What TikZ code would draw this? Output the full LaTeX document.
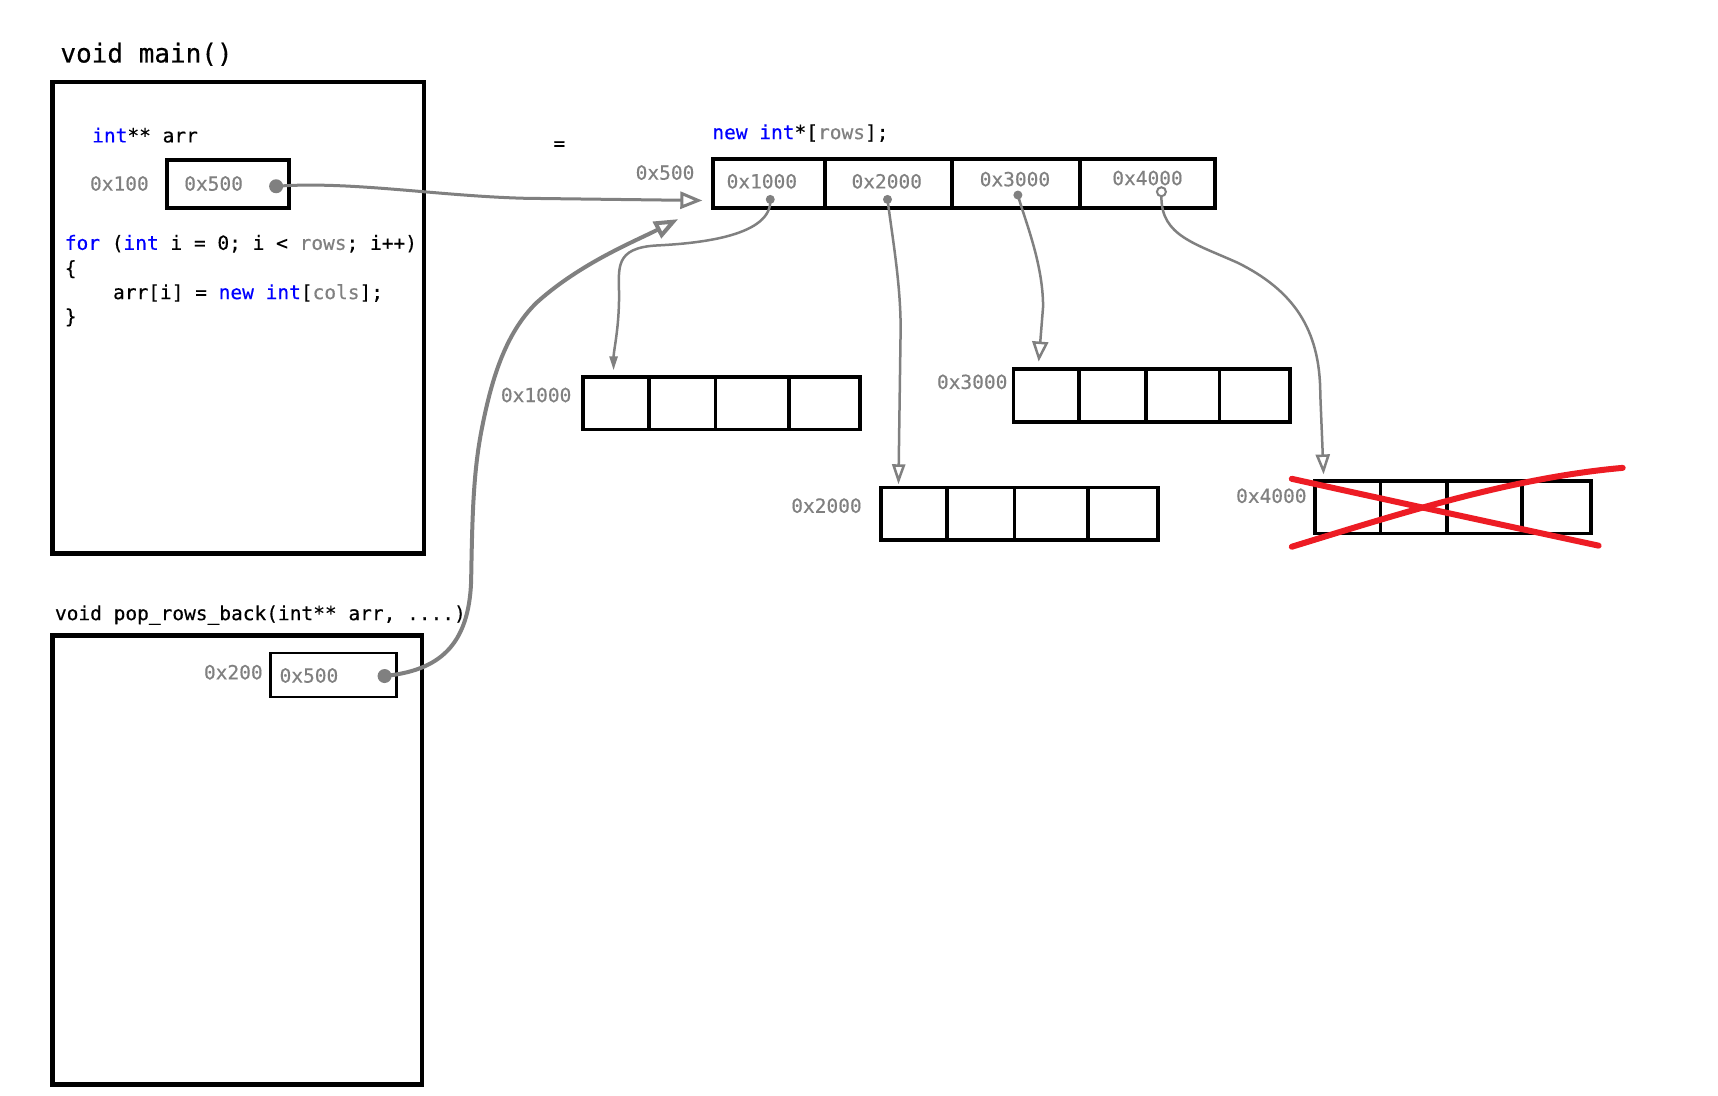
\documentclass[tikz,border=0pt]{standalone}
\usepackage{fontspec}
\setmonofont[FakeBold=0.4]{DejaVu Sans Mono}
\usetikzlibrary{fit,arrows.meta}
\definecolor{kw}{RGB}{0,0,255}
\definecolor{dim}{RGB}{128,128,128}
\definecolor{wiregray}{RGB}{128,128,128}
\definecolor{crossred}{RGB}{237,28,36}
\begin{document}
\begin{tikzpicture}[x=1.0957pt,y=-1.0957pt,
  txt/.style={anchor=base west, inner sep=0pt, font=\ttfamily\fontsize{19.5}{23}\selectfont},
  title/.style={anchor=base west, inner sep=0pt, font=\ttfamily\fontsize{26}{30}\selectfont},
  addr/.style={txt, text=dim},
  frame/.style={draw, line width=4.5pt, inner sep=0pt},
  slot/.style={draw, line width=4pt, inner sep=0pt},
  thinslot/.style={draw, line width=2.5pt, inner sep=0pt},
  cell/.style={draw, line width=3.8pt, inner sep=0pt},
  dot/.style={circle, fill=wiregray, inner sep=0pt, minimum size=#1},
  ring/.style={circle, draw=wiregray, line width=2pt, fill=white, inner sep=0pt, minimum size=9pt},
  conn/.style={draw=wiregray, line width=#1, line cap=round, line join=round},
  redx/.style={draw=crossred, line width=6pt, line cap=round}
]
% canvas
\fill[white] (0,0) rectangle (1568,1000);

% ---- main() frame ----
\node[title] (maintitle) at (55,57) {void main()};
\node[frame, fit={(48,75)(387,505)}] (mainframe) {};
\node[txt] (decl) at (84,130) {\textcolor{kw}{int}** arr};
\node[addr] (arraddr) at (82,174) {0x100};
\node[slot, fit={(152,146)(264,190)}] (arrslot) {};
\node[addr] (arrval) at (168,174) {0x500};
\node[dot=14pt] (arrdot) at (252,170) {};
\node[txt] (loop1) at (59,228) {\textcolor{kw}{for} (\textcolor{kw}{int} i = 0; i < \textcolor{dim}{rows}; i++)};
\node[txt] (loop2) at (59,251) {\{};
\node[txt] (loop3) at (103,273) {arr[i] = \textcolor{kw}{new} \textcolor{kw}{int}[\textcolor{dim}{cols}];};
\node[txt] (loop4) at (59,295) {\}};
\node[txt] (assign) at (505,137) {=};

% ---- pointer array ----
\node[txt] (newrows) at (650,127) {\textcolor{kw}{new} \textcolor{kw}{int}*[\textcolor{dim}{rows}];};
\node[addr] (ptraddr) at (580,164) {0x500};
\foreach \a/\b [count=\i] in {651/753,753/869,869/986,986/1109}
  \node[slot, fit={(\a,145)(\b,190)}] (p\i) {};
\node[addr] (pv1) at (663,172) {0x1000};
\node[addr] (pv2) at (777,172) {0x2000};
\node[addr] (pv3) at (894,170) {0x3000};
\node[addr] (pv4) at (1015,169) {0x4000};
\node[dot=9pt] (pd1) at (703,182) {};
\node[dot=9pt] (pd2) at (810,182) {};
\node[dot=9pt] (pd3) at (929,178) {};
\node[ring] (pd4) at (1060,175) {};

% ---- row arrays ----
\foreach \a/\b [count=\i] in {532/592,592/653,653/720,720/785}
  \node[cell, fit={(\a,344)(\b,392)}] (ra\i) {};
\node[addr] (ra) at (457,367) {0x1000};
\foreach \a/\b [count=\i] in {804/864,864/926,926/993,993/1057}
  \node[cell, fit={(\a,445)(\b,493)}] (rb\i) {};
\node[addr] (rb) at (722,468) {0x2000};
\foreach \a/\b [count=\i] in {925/985,985/1046,1046/1113,1113/1177}
  \node[cell, fit={(\a,337)(\b,385)}] (rc\i) {};
\node[addr] (rc) at (855,355) {0x3000};
\foreach \a/\b [count=\i] in {1200/1260,1260/1321,1321/1389,1389/1452}
  \node[cell, fit={(\a,439)(\b,487)}] (rd\i) {};
\node[addr] (rd) at (1128,459) {0x4000};

% deleted last row
\draw[redx] (1179,437) .. controls (1260,455) and (1380,481) .. (1459,498);
\draw[redx] (1179,499) .. controls (1280,468) and (1380,436) .. (1481,427);

% ---- pop_rows_back() frame ----
\node[txt] (poptitle) at (50,566) {void pop\_rows\_back(int** arr, ....)};
\node[frame, fit={(48,580)(385,990)}] (popframe) {};
\node[addr] (popaddr) at (186,620) {0x200};
\node[thinslot, fit={(247,596)(362,636)}] (popslot) {};
\node[addr] (popval) at (255,623) {0x500};
\node[dot=14pt] (popdot) at (351,617) {};

% ---- pointer connectors ----
\coordinate (t1) at (641,183);
\coordinate (t2) at (619,200);
\coordinate (t3) at (560,338);
\coordinate (t4) at (820,442);
\coordinate (t5) at (948,330);
\coordinate (t6) at (1208,433);

\draw[conn=3pt, -{Triangle[open,length=22pt,width=17pt]}]
  (arrdot.center) .. controls (320,165) and (400,179) .. (480,181) -- (t1);
\draw[conn=4pt, -{Triangle[open,length=24pt,width=18pt]}]
  (popdot.center) .. controls (400,612) and (428,590) .. (430,530)
  .. controls (431,470) and (432,430) .. (440,390)
  .. controls (448,350) and (460,305) .. (490,276)
  .. controls (530,240) and (580,220) .. (t2);
\draw[conn=2.5pt, -{Triangle[length=14pt,width=8pt]}]
  (pd1.center) .. controls (705,215) and (640,222) .. (600,224)
  .. controls (560,226) and (565,245) .. (565,270)
  .. controls (565,300) and (560,320) .. (t3);
\draw[conn=2.5pt, -{Triangle[open,length=20pt,width=13pt]}]
  (pd2.center) .. controls (815,220) and (822,260) .. (822,300) -- (t4);
\draw[conn=2.5pt, -{Triangle[open,length=20pt,width=16pt]}]
  (pd3.center) .. controls (935,200) and (952,240) .. (952,280) -- (t5);
\draw[conn=2.5pt, -{Triangle[open,length=20pt,width=14pt]}]
  (pd4.south) .. controls (1060,215) and (1090,222) .. (1130,240)
  .. controls (1180,265) and (1205,300) .. (1205,360) -- (t6);
\end{tikzpicture}
\end{document}
